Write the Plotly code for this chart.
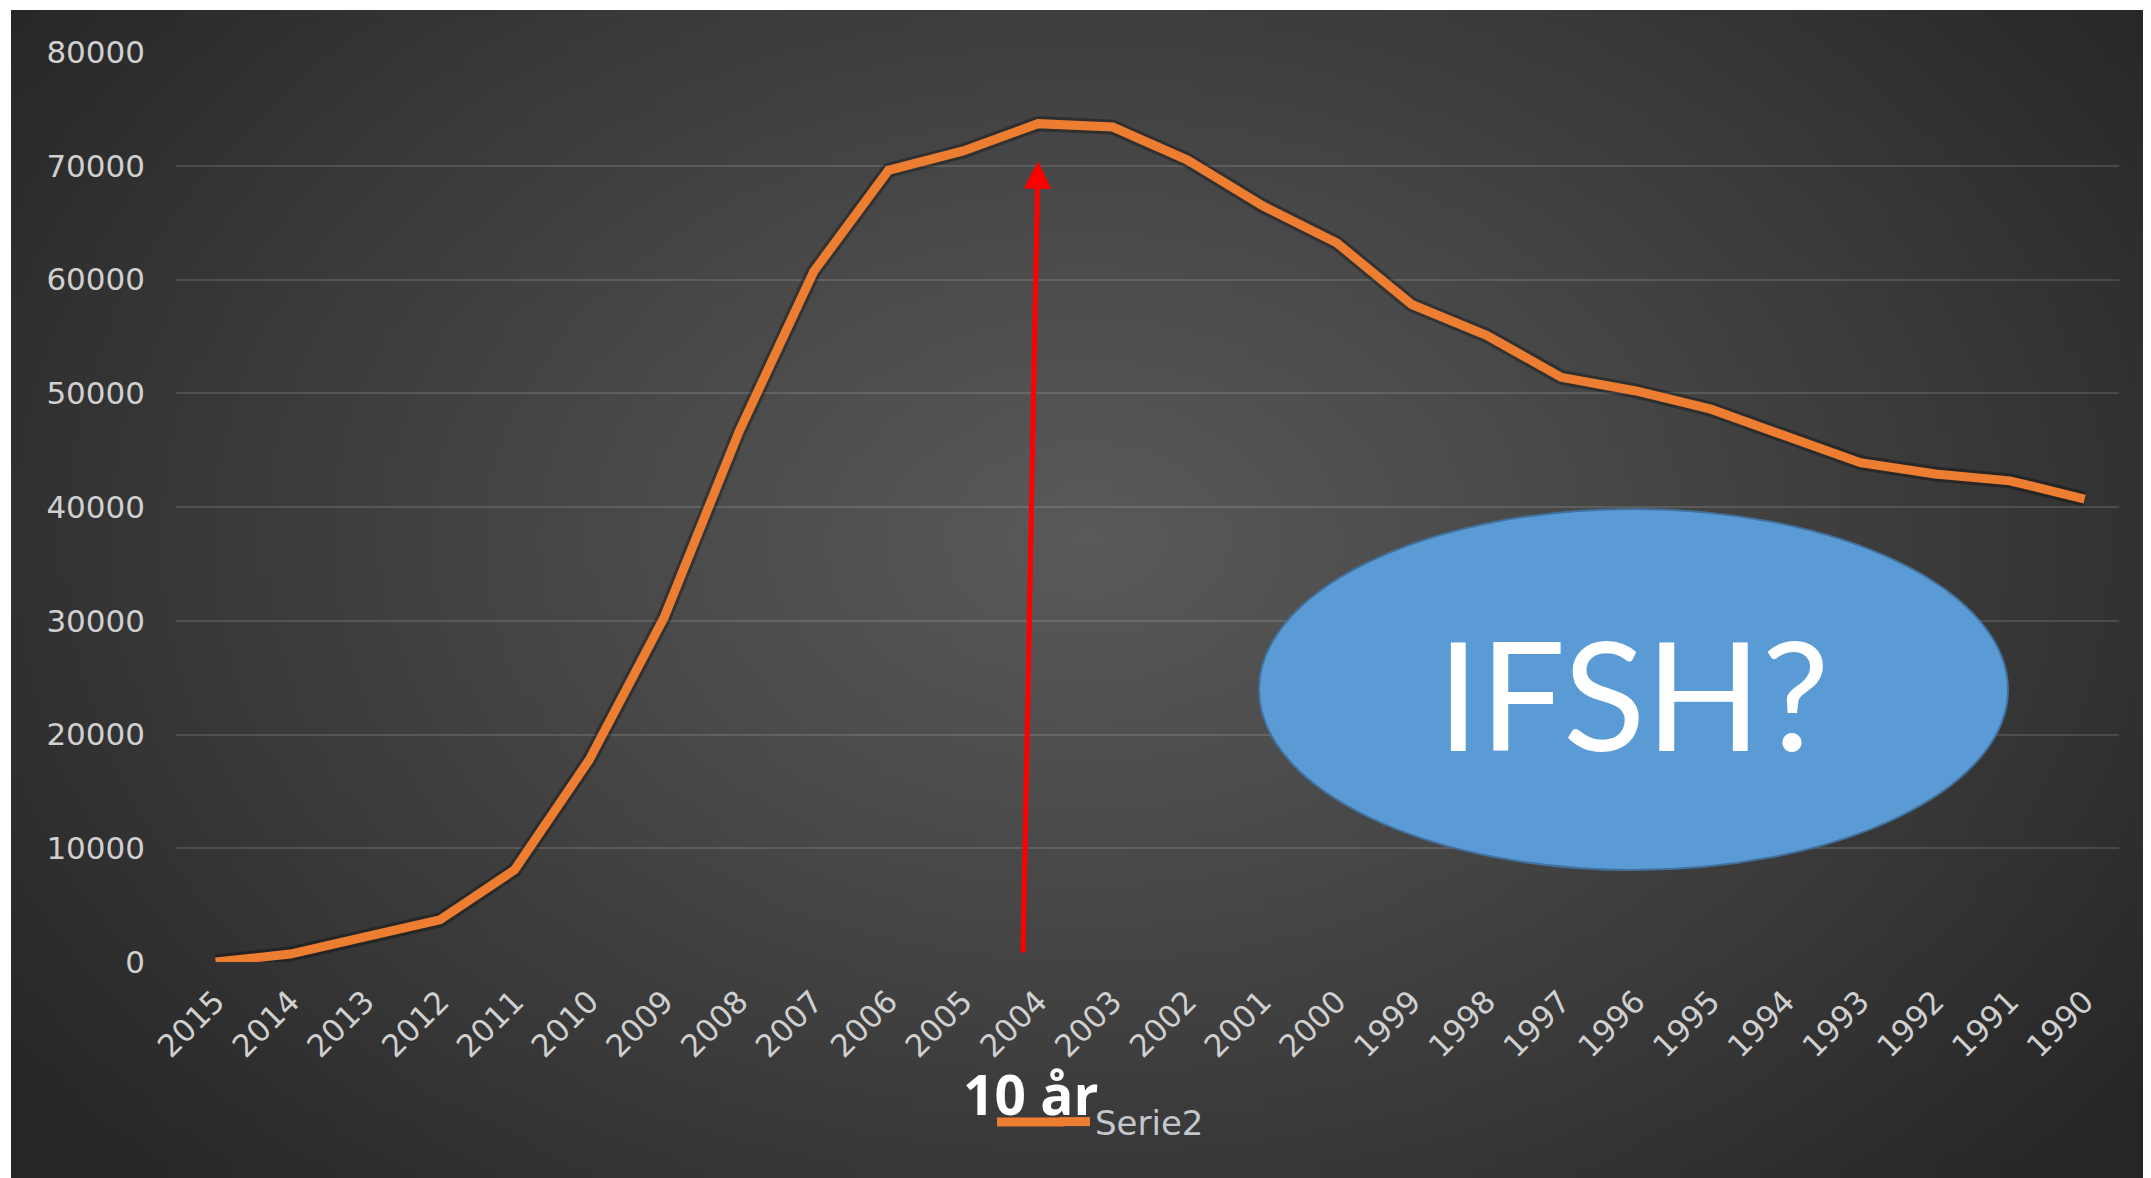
import base64
import struct
import zlib

import plotly.graph_objects as go

# ---------------- data ----------------
years = [2015, 2014, 2013, 2012, 2011, 2010, 2009, 2008, 2007, 2006, 2005, 2004, 2003,
         2002, 2001, 2000, 1999, 1998, 1997, 1996, 1995, 1994, 1993, 1992, 1991, 1990]
serie2 = [0, 700, 2200, 3700, 8100, 17800, 30300, 46600, 60700, 69600, 71300, 73700, 73400,
          70500, 66500, 63200, 57800, 55100, 51400, 50200, 48600, 46200, 43900, 42900, 42300, 40700]
y_ticks = [0, 10000, 20000, 30000, 40000, 50000, 60000, 70000, 80000]
series_name = "Serie2"
bubble_text = "IFSH?"
arrow_label = "10 år"
arrow_year = 2004

# ---------------- figure geometry (page pixels; the page body adds an 8px margin) ----------------
PAGE_W, PAGE_H = 2151, 1178
OFF = 8
W, H = PAGE_W - OFF, PAGE_H - OFF
PL, PR, PT, PB = 176, 2119, 52, 962          # plot area in page pixels
ML, MR, MT, MB = PL - OFF, PAGE_W - PR, PT - OFF, PAGE_H - PB
PW, PH = PR - PL, PB - PT


def px_x(px):
    return (px - PL) / PW


def px_y(py):
    return (PB - py) / PH


# ---------------- background gradient image ----------------
def gradient_png(w=240, h=132):
    cx, cy = 0.50 * w, 0.45 * h
    rx, ry = 0.62 * w, 0.80 * h
    c_in, c_out = 0x59, 0x26
    raw = bytearray()
    for j in range(h):
        raw.append(0)
        for i in range(w):
            t = (((i - cx) / rx) ** 2 + ((j - cy) / ry) ** 2) ** 0.5
            t = min(t, 1.0) ** 1.1
            v = int(round(c_in + (c_out - c_in) * t))
            raw += bytes((v, v, v))

    def chunk(tag, data):
        c = struct.pack(">I", len(data)) + tag + data
        return c + struct.pack(">I", zlib.crc32(tag + data) & 0xFFFFFFFF)

    png = b"\x89PNG\r\n\x1a\n"
    png += chunk(b"IHDR", struct.pack(">IIBBBBB", w, h, 8, 2, 0, 0, 0))
    png += chunk(b"IDAT", zlib.compress(bytes(raw), 9))
    png += chunk(b"IEND", b"")
    return "data:image/png;base64," + base64.b64encode(png).decode()


BG_X0, BG_Y0 = 11, 10  # white border at left/top (page pixels)
bg_src = gradient_png()

fig = go.Figure()

# soft shadow under the line
fig.add_trace(go.Scatter(
    x=years, y=serie2, mode="lines",
    line=dict(color="rgba(0,0,0,0.3)", width=15),
    showlegend=False, hoverinfo="skip",
))
fig.add_trace(go.Scatter(
    x=years, y=serie2, mode="lines", name=series_name,
    line=dict(color="#ED7D31", width=9),
))

tick_font = dict(family="DejaVu Sans", size=31, color="#d0d0d0")

fig.update_layout(
    width=W, height=H,
    margin=dict(l=ML, r=MR, t=MT, b=MB),
    paper_bgcolor="white",
    plot_bgcolor="rgba(0,0,0,0)",
    showlegend=True,
    legend=dict(
        orientation="h",
        x=px_x(1055), xanchor="left",
        y=px_y(1122), yanchor="middle",
        font=dict(family="DejaVu Sans", size=34, color="#c3c7ce"),
        bgcolor="rgba(0,0,0,0)",
        itemwidth=30,
    ),
    xaxis=dict(
        range=[max(years) + 0.53, min(years) - 0.46],
        tickmode="array", tickvals=years, ticktext=[str(y) for y in years],
        tickangle=-45, tickfont=tick_font,
        showgrid=False, zeroline=False, showline=False, ticks="",
        ticklabelstandoff=14,
    ),
    yaxis=dict(
        range=[0, 80000],
        tickmode="array", tickvals=y_ticks, ticktext=[str(v) for v in y_ticks],
        tickfont=tick_font,
        showgrid=True, gridcolor="rgba(255,255,255,0.13)", gridwidth=2,
        zeroline=False, showline=False, ticks="",
        ticklabelstandoff=30,
    ),
    images=[dict(
        source=bg_src, xref="paper", yref="paper",
        x=px_x(BG_X0), y=px_y(BG_Y0),
        sizex=(PAGE_W - BG_X0) / PW, sizey=(PAGE_H - BG_Y0) / PH,
        xanchor="left", yanchor="top", sizing="stretch", layer="below",
    )],
    shapes=[
        dict(
            type="circle", xref="paper", yref="paper",
            x0=px_x(1259), x1=px_x(2008),
            y0=px_y(870), y1=px_y(509),
            fillcolor="#5B9BD5", line=dict(color="#41719C", width=2),
            layer="above",
        ),
        # legend key line extension (Excel draws a longer key)
        dict(
            type="line", xref="paper", yref="paper",
            x0=px_x(997), x1=px_x(1064), y0=px_y(1122), y1=px_y(1122),
            line=dict(color="#ED7D31", width=9),
            layer="above",
        ),
    ],
)

peak_val = serie2[years.index(arrow_year)]
fig.add_annotation(
    x=arrow_year, y=peak_val - 3300, xref="x", yref="y",
    ax=arrow_year + 0.2, ay=700, axref="x", ayref="y",
    showarrow=True, arrowhead=2, arrowsize=1.1, arrowwidth=5, arrowcolor="#FF0000",
    text="",
)
fig.add_annotation(
    x=px_x(1633), y=px_y(692), xref="paper", yref="paper",
    text=bubble_text, showarrow=False, xanchor="center", yanchor="middle",
    font=dict(family="Lato", size=152, color="white", weight=400),
)
fig.add_annotation(
    x=px_x(1030), y=px_y(1093), xref="paper", yref="paper",
    text="<b>" + arrow_label + "</b>", showarrow=False, xanchor="center", yanchor="middle",
    font=dict(family="Open Sans", size=55, color="white"),
)

fig.write_html("out.html")
